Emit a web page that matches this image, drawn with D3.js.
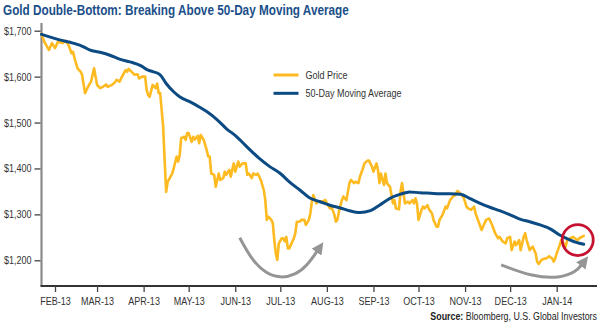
<!DOCTYPE html>
<html>
<head>
<meta charset="utf-8">
<script src="https://cdn.jsdelivr.net/npm/d3@7"></script>
<style>
  html, body { margin: 0; padding: 0; background: #fff; }
  svg { display: block; }
  text { font-family: "Liberation Sans", sans-serif; }
</style>
</head>
<body>
<svg id="chart" width="600" height="326"></svg>
<script>
// ---------- DATA ----------
const title = "Gold Double-Bottom: Breaking Above 50-Day Moving Average";
const seriesNames = ["Gold Price", "50-Day Moving Average"];

const goldDates = ["2013-01-23","2013-01-25","2013-01-28","2013-01-30","2013-02-01","2013-02-03","2013-02-06","2013-02-08","2013-02-10","2013-02-12",
"2013-02-13","2013-02-14","2013-02-16","2013-02-18","2013-02-19","2013-02-21","2013-02-23","2013-02-25","2013-02-27","2013-03-01",
"2013-03-03","2013-03-05","2013-03-07","2013-03-08","2013-03-11","2013-03-13","2013-03-14","2013-03-16","2013-03-17","2013-03-20",
"2013-03-21","2013-03-22","2013-03-25","2013-03-26","2013-03-28","2013-03-29","2013-03-31","2013-04-02","2013-04-03","2013-04-04",
"2013-04-05","2013-04-07","2013-04-09","2013-04-10","2013-04-11","2013-04-12","2013-04-14","2013-04-15","2013-04-16","2013-04-17",
"2013-04-20","2013-04-21","2013-04-23","2013-04-24","2013-04-25","2013-04-26","2013-04-28","2013-04-29","2013-04-30","2013-05-01",
"2013-05-03","2013-05-04","2013-05-05","2013-05-07","2013-05-08","2013-05-09","2013-05-11","2013-05-13","2013-05-14","2013-05-15",
"2013-05-16","2013-05-18","2013-05-19","2013-05-21","2013-05-22","2013-05-24","2013-05-25","2013-05-26","2013-05-28","2013-05-29",
"2013-05-30","2013-05-31","2013-06-01","2013-06-03","2013-06-04","2013-06-05","2013-06-06","2013-06-08","2013-06-09","2013-06-10",
"2013-06-12","2013-06-13","2013-06-15","2013-06-16","2013-06-18","2013-06-20","2013-06-21","2013-06-22","2013-06-23","2013-06-25",
"2013-06-26","2013-06-27","2013-06-28","2013-06-29","2013-06-30","2013-07-02","2013-07-03","2013-07-04","2013-07-05","2013-07-06",
"2013-07-07","2013-07-10","2013-07-11","2013-07-12","2013-07-14","2013-07-15","2013-07-17","2013-07-18","2013-07-20","2013-07-21",
"2013-07-22","2013-07-23","2013-07-25","2013-07-26","2013-07-29","2013-07-31","2013-08-01","2013-08-03","2013-08-04","2013-08-06",
"2013-08-07","2013-08-08","2013-08-09","2013-08-11","2013-08-12","2013-08-14","2013-08-15","2013-08-16","2013-08-17","2013-08-19",
"2013-08-20","2013-08-22","2013-08-23","2013-08-25","2013-08-26","2013-08-28","2013-08-29","2013-08-31","2013-09-01","2013-09-03",
"2013-09-04","2013-09-05","2013-09-06","2013-09-08","2013-09-09","2013-09-10","2013-09-12","2013-09-13","2013-09-14","2013-09-15",
"2013-09-16","2013-09-18","2013-09-19","2013-09-20","2013-09-21","2013-09-22","2013-09-24","2013-09-25","2013-09-27","2013-09-28",
"2013-09-29","2013-09-30","2013-10-01","2013-10-03","2013-10-04","2013-10-05","2013-10-07","2013-10-08","2013-10-10","2013-10-11",
"2013-10-13","2013-10-14","2013-10-15","2013-10-17","2013-10-19","2013-10-20","2013-10-22","2013-10-24","2013-10-25","2013-10-27",
"2013-10-29","2013-10-31","2013-11-02","2013-11-03","2013-11-05","2013-11-07","2013-11-08","2013-11-10","2013-11-12","2013-11-14",
"2013-11-15","2013-11-17","2013-11-19","2013-11-21","2013-11-23","2013-11-24","2013-11-26","2013-11-28","2013-11-29","2013-12-01",
"2013-12-02","2013-12-04","2013-12-05","2013-12-07","2013-12-08","2013-12-10","2013-12-11","2013-12-12","2013-12-14","2013-12-16",
"2013-12-18","2013-12-19","2013-12-20","2013-12-22","2013-12-24","2013-12-25","2013-12-27","2013-12-29","2013-12-30","2013-12-31",
"2014-01-01","2014-01-03","2014-01-04","2014-01-07","2014-01-08","2014-01-10","2014-01-12","2014-01-13","2014-01-15","2014-01-16",
"2014-01-19"];

const goldValues = [1693,1675,1658,1673,1662,1676,1673,1678,1669,1651,
1654,1640,1618,1611,1604,1564,1578,1589,1618,1582,
1575,1578,1583,1578,1582,1588,1593,1589,1596,1614,
1611,1617,1607,1604,1605,1596,1600,1600,1571,1560,
1556,1582,1575,1585,1564,1564,1491,1418,1349,1371,
1389,1400,1426,1415,1429,1466,1469,1462,1477,1477,
1458,1469,1463,1471,1455,1473,1462,1440,1426,1426,
1389,1386,1360,1389,1375,1379,1393,1386,1397,1382,
1397,1411,1393,1415,1404,1408,1411,1411,1386,1389,
1379,1389,1386,1389,1375,1353,1331,1288,1295,1288,
1281,1244,1215,1201,1237,1248,1248,1241,1251,1226,
1226,1248,1259,1284,1284,1288,1288,1277,1288,1302,
1328,1342,1324,1328,1328,1331,1324,1313,1317,1299,
1284,1288,1306,1331,1339,1331,1349,1368,1375,1368,
1371,1368,1382,1400,1411,1417,1417,1404,1393,1411,
1397,1368,1389,1364,1389,1368,1360,1342,1324,1331,
1313,1311,1349,1368,1346,1324,1328,1324,1331,1324,
1335,1324,1288,1310,1317,1313,1320,1311,1302,1288,
1273,1273,1288,1299,1317,1313,1331,1339,1341,1351,
1345,1337,1317,1313,1310,1317,1302,1284,1266,1281,
1288,1291,1277,1259,1248,1251,1241,1237,1248,1251,
1222,1241,1233,1244,1222,1251,1259,1244,1222,1230,
1215,1197,1192,1201,1204,1204,1209,1204,1197,1204,
1215,1233,1244,1230,1244,1248,1251,1248,1244,1248,
1253];

const maDates = ["2013-01-23","2013-02-04","2013-02-13","2013-02-20","2013-02-24","2013-03-03","2013-03-10","2013-03-16","2013-03-23","2013-03-30",
"2013-04-04","2013-04-07","2013-04-12","2013-04-16","2013-04-21","2013-04-25","2013-05-02","2013-05-08","2013-05-13","2013-05-20",
"2013-05-26","2013-06-02","2013-06-06","2013-06-11","2013-06-17","2013-06-24","2013-07-01","2013-07-07","2013-07-14","2013-07-21",
"2013-07-27","2013-08-03","2013-08-10","2013-08-16","2013-08-23","2013-08-30","2013-09-05","2013-09-12","2013-09-19","2013-09-25",
"2013-10-02","2013-10-09","2013-10-15","2013-10-22","2013-10-29","2013-11-04","2013-11-11","2013-11-18","2013-11-24","2013-12-01",
"2013-12-08","2013-12-14","2013-12-21","2013-12-28","2014-01-03","2014-01-10","2014-01-14","2014-01-19"];

const maValues = [1692,1680,1673,1665,1658,1653,1646,1638,1632,1624,
1614,1611,1604,1585,1567,1556,1545,1534,1524,1506,
1487,1469,1456,1440,1422,1404,1389,1371,1353,1335,
1328,1320,1314,1308,1304,1308,1320,1335,1344,1349,
1347,1346,1345,1345,1344,1335,1324,1315,1308,1299,
1289,1284,1277,1268,1255,1244,1239,1235];

const monthTickDates = ["2013-02-01","2013-03-01","2013-04-01","2013-05-01","2013-06-01","2013-07-01","2013-08-01","2013-09-01","2013-10-01","2013-11-01","2013-12-01","2014-01-01"];
const monthTickLabels = ["FEB-13","MAR-13","APR-13","MAY-13","JUN-13","JUL-13","AUG-13","SEP-13","OCT-13","NOV-13","DEC-13","JAN-14"];
const yTickValues = [1200, 1300, 1400, 1500, 1600, 1700];

// annotation anchors (date, value)
const arrow1Dates = ["2013-06-04","2013-06-12","2013-06-21","2013-07-01","2013-07-11","2013-07-19","2013-07-26"];
const arrow1Values = [1249,1201,1172,1161,1168,1189,1222];
const arrow2Dates = ["2013-11-25","2013-12-16","2014-01-03","2014-01-14","2014-01-18"];
const arrow2Values = [1190,1164,1161,1175,1192];
const circleDate = "2014-01-15";
const circleValue = 1244;

const sourceBold = "Source:";
const sourceText = " Bloomberg, U.S. Global Investors";

// ---------- LAYOUT ----------
const parse = d3.timeParse("%Y-%m-%d");
const svg = d3.select("#chart");
const axisLeftX = 41.5, axisRightX = 597, axisBottomY = 286, axisTopY = 23;
const NARROW = 0.82; // condensed look: compress regular sans glyphs horizontally

// horizontally compress a text around its own anchor point
function condense(sel, factor) {
  sel.each(function () {
    const t = d3.select(this);
    const tx = +(t.attr("x") || 0), ty = +(t.attr("y") || 0);
    t.attr("x", 0).attr("y", 0)
     .attr("transform", `translate(${tx},${ty}) scale(${factor},1)`);
  });
}
function fitWidth(sel, width) {
  const w = sel.node().getComputedTextLength();
  condense(sel, width / w);
}

const x = d3.scaleTime()
  .domain([parse("2013-02-01"), parse("2014-01-01")])
  .range([55, 556.7]);
const y = d3.scaleLinear()
  .domain([1200, 1700])
  .range([260.3, 30.7]);

const gold = goldDates.map((d, i) => ({ date: parse(d), value: goldValues[i] }));
const ma = maDates.map((d, i) => ({ date: parse(d), value: maValues[i] }));

const goldColor = "#FDBA21";
const maColor = "#0B4A82";
const fmt = v => "$" + d3.format(",")(v);

// title
const titleT = svg.append("text")
  .attr("x", 3).attr("y", 15)
  .attr("font-size", 14.5).attr("font-weight", "bold")
  .attr("fill", "#1B4F8A")
  .text(title);
fitWidth(titleT, 346);

// y axis
svg.append("line")
  .attr("x1", axisLeftX).attr("x2", axisLeftX).attr("y1", axisTopY).attr("y2", axisBottomY)
  .attr("stroke", "#8a8a8a").attr("stroke-width", 2.2);
const yAxis = d3.axisLeft(y).tickValues(yTickValues).tickFormat(fmt).tickSize(6).tickPadding(3);
const yA = svg.append("g").attr("transform", `translate(${axisLeftX - 1},0)`).call(yAxis);
yA.select(".domain").remove();
yA.selectAll(".tick line").attr("stroke", "#444").attr("stroke-width", 1.3);
yA.selectAll(".tick text").attr("font-size", 11).attr("fill", "#333")
  .attr("font-family", "Liberation Sans, sans-serif");
condense(yA.selectAll(".tick text"), NARROW);

// x axis
svg.append("line")
  .attr("x1", axisLeftX - 1).attr("x2", axisRightX)
  .attr("y1", axisBottomY).attr("y2", axisBottomY)
  .attr("stroke", "#333").attr("stroke-width", 2);
const xAxis = d3.axisBottom(x)
  .tickValues(monthTickDates.map(parse))
  .tickFormat((d, i) => monthTickLabels[i])
  .tickSize(6).tickPadding(5);
const xA = svg.append("g").attr("transform", `translate(0,${axisBottomY})`).call(xAxis);
xA.select(".domain").remove();
xA.selectAll(".tick line").attr("stroke", "#444").attr("stroke-width", 1.3);
xA.selectAll(".tick text").attr("font-size", 11).attr("fill", "#333")
  .attr("font-family", "Liberation Sans, sans-serif");
condense(xA.selectAll(".tick text"), NARROW);

// lines
const line = d3.line().x(d => x(d.date)).y(d => y(d.value));
svg.append("path").datum(gold)
  .attr("d", line).attr("fill", "none")
  .attr("stroke", goldColor).attr("stroke-width", 2.6)
  .attr("stroke-linejoin", "round").attr("stroke-linecap", "round");
svg.append("path").datum(ma)
  .attr("d", d3.line().x(d => x(d.date)).y(d => y(d.value)).curve(d3.curveMonotoneX)).attr("fill", "none")
  .attr("stroke", maColor).attr("stroke-width", 3)
  .attr("stroke-linejoin", "round").attr("stroke-linecap", "round");

// arrows
const defs = svg.append("defs");
defs.append("marker")
  .attr("id", "arrowhead")
  .attr("markerUnits", "userSpaceOnUse")
  .attr("viewBox", "0 0 10 10")
  .attr("refX", 2).attr("refY", 5)
  .attr("markerWidth", 12).attr("markerHeight", 12)
  .attr("orient", "auto")
  .append("path").attr("d", "M0,0 L10,5 L0,10 z").attr("fill", "#959595");

const arrowLine = d3.line().x(d => x(d.date)).y(d => y(d.value)).curve(d3.curveBasis);
[[arrow1Dates, arrow1Values], [arrow2Dates, arrow2Values]].forEach(([ds, vs]) => {
  const pts = ds.map((d, i) => ({ date: parse(d), value: vs[i] }));
  svg.append("path").datum(pts)
    .attr("d", arrowLine).attr("fill", "none")
    .attr("stroke", "#959595").attr("stroke-width", 3)
    .attr("marker-end", "url(#arrowhead)");
});

// red circle
svg.append("circle")
  .attr("cx", x(parse(circleDate))).attr("cy", y(circleValue))
  .attr("r", 15.5).attr("fill", "none")
  .attr("stroke", "#C41230").attr("stroke-width", 2.8);

// legend
const legend = svg.append("g");
seriesNames.forEach((name, i) => {
  const ly = 75 + i * 18.3;
  legend.append("line")
    .attr("x1", 273.5).attr("x2", 298.5).attr("y1", ly).attr("y2", ly)
    .attr("stroke", i === 0 ? goldColor : maColor).attr("stroke-width", 3);
  const t = legend.append("text")
    .attr("x", 305.5).attr("y", ly + 4)
    .attr("font-size", 11).attr("fill", "#333")
    .text(name);
  condense(t, NARROW);
});

// source
const src = svg.append("text")
  .attr("x", 597).attr("y", 320)
  .attr("text-anchor", "end")
  .attr("font-size", 11).attr("fill", "#222");
src.append("tspan").attr("font-weight", "bold").text(sourceBold);
src.append("tspan").text(sourceText);
fitWidth(src, 167);
</script>
</body>
</html>
